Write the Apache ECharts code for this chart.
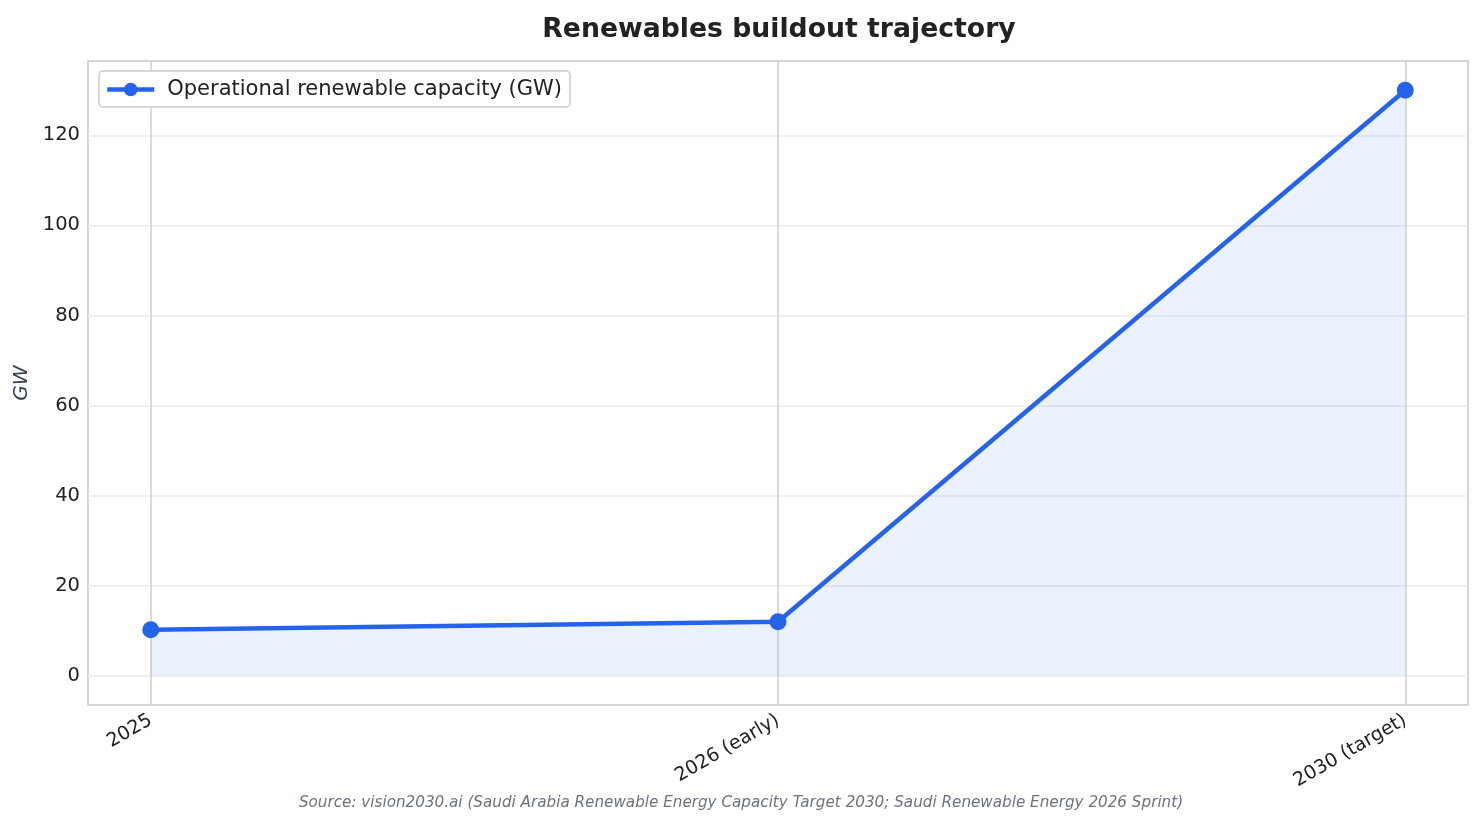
<!DOCTYPE html>
<html>
<head>
<meta charset="utf-8">
<script src="https://cdn.jsdelivr.net/npm/echarts@6/dist/echarts.min.js"></script>
<style>
  html, body { margin: 0; padding: 0; background: #fff; }
  #main { width: 1483px; height: 824px; }
</style>
</head>
<body>
<div id="main"></div>
<script>
// 数据
var categories = ['2025', '2026 (early)', '2030 (target)'];
var capacity = [10.2, 12, 130];
var yTicks = [0, 20, 40, 60, 80, 100, 120];
var xTicks = [0, 1, 2];

var lineColor = '#2563eb';
var font = 'DejaVu Sans';

var points = capacity.map(function (v, i) { return [i, v]; });

// 网格线
var gridMarks = [];
yTicks.forEach(function (v) {
  gridMarks.push({ yAxis: v, lineStyle: { color: '#ebebeb', width: 1.5, type: 'solid' } });
});
xTicks.forEach(function (v) {
  gridMarks.push({ xAxis: v, lineStyle: { color: '#cfcfcf', width: 1.5, type: 'solid' } });
});

var myChart = echarts.init(document.getElementById('main'), null, { renderer: 'canvas' });
myChart.setOption({
  animation: false,
  backgroundColor: '#fff',
  textStyle: { fontFamily: font },
  title: [{
    text: 'Renewables buildout trajectory',
    left: 774,
    textAlign: 'center',
    top: 12,
    textStyle: { fontFamily: font, fontSize: 26.7, fontWeight: 'bold', color: '#222' }
  }, {
    text: 'Source: vision2030.ai (Saudi Arabia Renewable Energy Capacity Target 2030; Saudi Renewable Energy 2026 Sprint)',
    left: 736,
    textAlign: 'center',
    top: 791,
    textStyle: { fontFamily: font, fontSize: 15.2, fontStyle: 'italic', fontWeight: 'normal', color: '#6b7280' }
  }],
  legend: {
    left: 99,
    top: 71,
    padding: [8, 8, 7, 6],
    itemWidth: 47,
    itemHeight: 17,
    itemGap: 10,
    backgroundColor: '#fff',
    borderColor: '#cccccc',
    borderWidth: 1.5,
    borderRadius: 4,
    lineStyle: { width: 4.5 },
    textStyle: { fontFamily: font, fontSize: 21, color: '#222', padding: [0, 0, 0, 8] },
    data: ['Operational renewable capacity (GW)']
  },
  grid: {
    left: 88, right: 15, top: 61, bottom: 119,
    show: true, borderColor: '#c8c8c8', borderWidth: 1.5, backgroundColor: '#fff'
  },
  xAxis: {
    type: 'value',
    min: -0.1,
    max: 2.1,
    axisLine: { show: false },
    axisTick: { show: false },
    splitLine: { show: false },
    axisLabel: {
      customValues: xTicks,
      rotate: 30,
      margin: 14,
      fontFamily: font,
      fontSize: 19,
      color: '#222',
      formatter: function (v) { return categories[Math.round(v)]; }
    }
  },
  yAxis: {
    type: 'value',
    min: -6.5,
    max: 136.5,
    name: 'GW',
    nameLocation: 'middle',
    nameGap: 54,
    nameRotate: 90,
    nameTextStyle: { fontFamily: font, fontSize: 20, fontStyle: 'italic', color: '#334155' },
    axisLine: { show: false },
    axisTick: { show: false },
    splitLine: { show: false },
    axisLabel: {
      customValues: yTicks,
      margin: 8,
      fontFamily: font,
      fontSize: 19.5,
      color: '#222'
    }
  },
  series: [{
    type: 'line',
    name: 'grid',
    data: [],
    silent: true,
    z: 1,
    markLine: {
      z: 1,
      silent: true,
      symbol: 'none',
      label: { show: false },
      data: gridMarks
    }
  }, {
    type: 'line',
    name: 'Operational renewable capacity (GW)',
    data: points,
    z: 3,
    symbol: 'circle',
    symbolSize: 17,
    color: lineColor,
    lineStyle: { color: lineColor, width: 4.5 },
    itemStyle: { color: lineColor },
    areaStyle: { color: 'rgba(37,99,235,0.09)', opacity: 1, origin: 0 }
  }]
});
</script>
</body>
</html>
